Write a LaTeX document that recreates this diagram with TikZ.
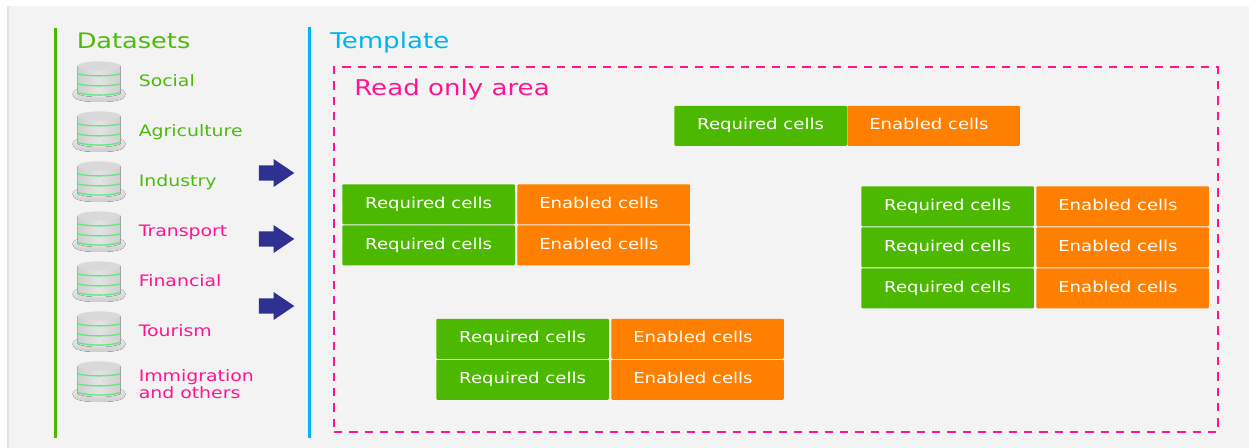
\documentclass[tikz,border=0pt]{standalone}
\usepackage{fontspec}
\setmainfont[FakeStretch=1.2]{DejaVu Sans}
\usetikzlibrary{shapes.arrows,positioning}
\definecolor{panel}{HTML}{F3F3F3}
\definecolor{paneledge}{HTML}{E2E2E2}
\definecolor{cellgreen}{HTML}{4CB900}
\definecolor{txtgreen}{HTML}{4DBB0A}
\definecolor{cellorange}{HTML}{FF7F00}
\definecolor{hotpink}{HTML}{FF1493}
\definecolor{skyb}{HTML}{00B5EF}
\definecolor{navy}{HTML}{2E3192}
\definecolor{glow}{HTML}{5CEB7E}
\definecolor{dbA}{HTML}{CFCFCF}
\definecolor{dbB}{HTML}{E4E4E4}
\definecolor{dbC}{HTML}{EFEFEF}
\definecolor{dbD}{HTML}{CCCCCC}
\definecolor{dbT}{HTML}{D9D9D9}
\tikzset{
  x=0.75pt,y=-0.75pt,
  cell/.style={minimum width=129.5pt,minimum height=30pt,inner sep=0pt,rounded corners=0.8pt,text=white,font=\fontsize{11.3}{12}\selectfont,anchor=north west,text height=8.5pt,text depth=2.5pt},
  req/.style={cell,fill=cellgreen},
  enb/.style={cell,fill=cellorange},
  heading/.style={anchor=base west,inner sep=0pt,font=\fontsize{16}{18}\selectfont},
  headingwide/.style={anchor=base west,inner sep=0pt,font=\fontsize{16.3}{18}\selectfont},
  dslabel/.style={anchor=base west,inner sep=0pt,font=\fontsize{11.8}{12.4}\selectfont},
  dslabeltwo/.style={anchor=west,inner sep=0pt,align=left,font=\fontsize{11.8}{12.4}\selectfont},
  bigarrow/.style={single arrow,fill=navy,draw=none,minimum height=26.5pt,single arrow head extend=4.7pt,single arrow tip angle=68,inner sep=0pt},
  rule/.style={line width=2.2pt},
}
\newcommand{\arrowbody}{\rule{0pt}{11pt}}
\newcommand{\enabledtext}{Enabled cells\hspace*{7pt}}
\newcommand{\dbicon}[1]{%
  \begin{scope}[shift={(99,#1)}]
    % brim
    \fill[top color=dbC,bottom color=dbD] (-26.5,13) .. controls (-26.5,8.5) and (-18,6) .. (0,6) .. controls (18,6) and (26.5,8.5) .. (26.5,13) .. controls (26.5,18.5) and (18,21) .. (0,21) .. controls (-18,21) and (-26.5,18.5) .. (-26.5,13) -- cycle;
    % body
    \fill[left color=dbA,right color=dbA,middle color=dbB] (-21.5,-15) -- (-21.5,13) .. controls (-12,17) and (12,17) .. (21.5,13) -- (21.5,-15) -- cycle;
    % top
    \fill[dbT] (0,-15) ellipse [x radius=21.5,y radius=4.6];
    % bands
    \draw[glow,line width=1pt] (-21,-7) .. controls (-10,-4.5) and (10,-4.5) .. (21,-7);
    \draw[glow,line width=1pt] (-21,3) .. controls (-10,5.5) and (10,5.5) .. (21,3);
    \draw[glow,line width=1pt] (-21,11.5) .. controls (-10,15) and (10,15) .. (21,11.5);
  \end{scope}}
\begin{document}
\begin{tikzpicture}
\useasboundingbox (0,0) rectangle (1249,448);
\fill[white] (0,0) rectangle (1249,448);
\fill[panel] (8,6) rectangle (1249,448);
\fill[paneledge] (6.5,6) rectangle (9,448);

\coordinate (gt) at (55.5,28); \coordinate (gb) at (55.5,438);
\coordinate (bt) at (309.5,27); \coordinate (bb) at (309.5,438);
\draw[rule,draw=cellgreen] (gt) -- (gb);
\draw[rule,draw=skyb] (bt) -- (bb);

\node[heading,text=txtgreen] (dsh) at (76.5,48.5) {Datasets};
\node[headingwide,text=skyb] (tph) at (330,48.5) {Template};

\foreach \yy in {81,131,181,231,281,331,381} {\dbicon{\yy}}

\node[dslabel,text=txtgreen] (l1) at (138.5,87) {Social};
\node[dslabel,text=txtgreen] (l2) at (138.5,137) {Agriculture};
\node[dslabel,text=txtgreen] (l3) at (138.5,187) {Industry};
\node[dslabel,text=hotpink] (l4) at (138.5,236.5) {Transport};
\node[dslabel,text=hotpink] (l5) at (138.5,287) {Financial};
\node[dslabel,text=hotpink] (l6) at (138.5,337) {Tourism};
\node[dslabeltwo,text=hotpink] (l7) at (138.5,384) {Immigration\\and others};

\node[bigarrow] (a1) at (271,173) {\arrowbody};
\node[bigarrow] (a2) at (271,239) {\arrowbody};
\node[bigarrow] (a3) at (271,306) {\arrowbody};

\node[draw=hotpink,line width=1.2pt,dash pattern=on 6.3pt off 5.2pt,minimum width=663pt,minimum height=273.5pt,anchor=north west,inner sep=0pt] (ro) at (333.2,66.5) {};
\node[headingwide,text=hotpink] (roh) at (354,95.5) {Read only area};

\node[req] (r1) at (674,105.5) {Required cells};
\node[enb] (e1) at (847,105.5) {\enabledtext};

\node[req] (r2) at (342,184) {Required cells};
\node[enb] (e2) at (517,184) {\enabledtext};
\node[req] (r3) at (342,225) {Required cells};
\node[enb] (e3) at (517,225) {\enabledtext};

\node[req] (r4) at (861,186) {Required cells};
\node[enb] (e4) at (1036,186) {\enabledtext};
\node[req] (r5) at (861,227) {Required cells};
\node[enb] (e5) at (1036,227) {\enabledtext};
\node[req] (r6) at (861,268) {Required cells};
\node[enb] (e6) at (1036,268) {\enabledtext};

\node[req] (r7) at (436,318.5) {Required cells};
\node[enb] (e7) at (611,318.5) {\enabledtext};
\node[req] (r8) at (436,359.5) {Required cells};
\node[enb] (e8) at (611,359.5) {\enabledtext};
\end{tikzpicture}
\end{document}
